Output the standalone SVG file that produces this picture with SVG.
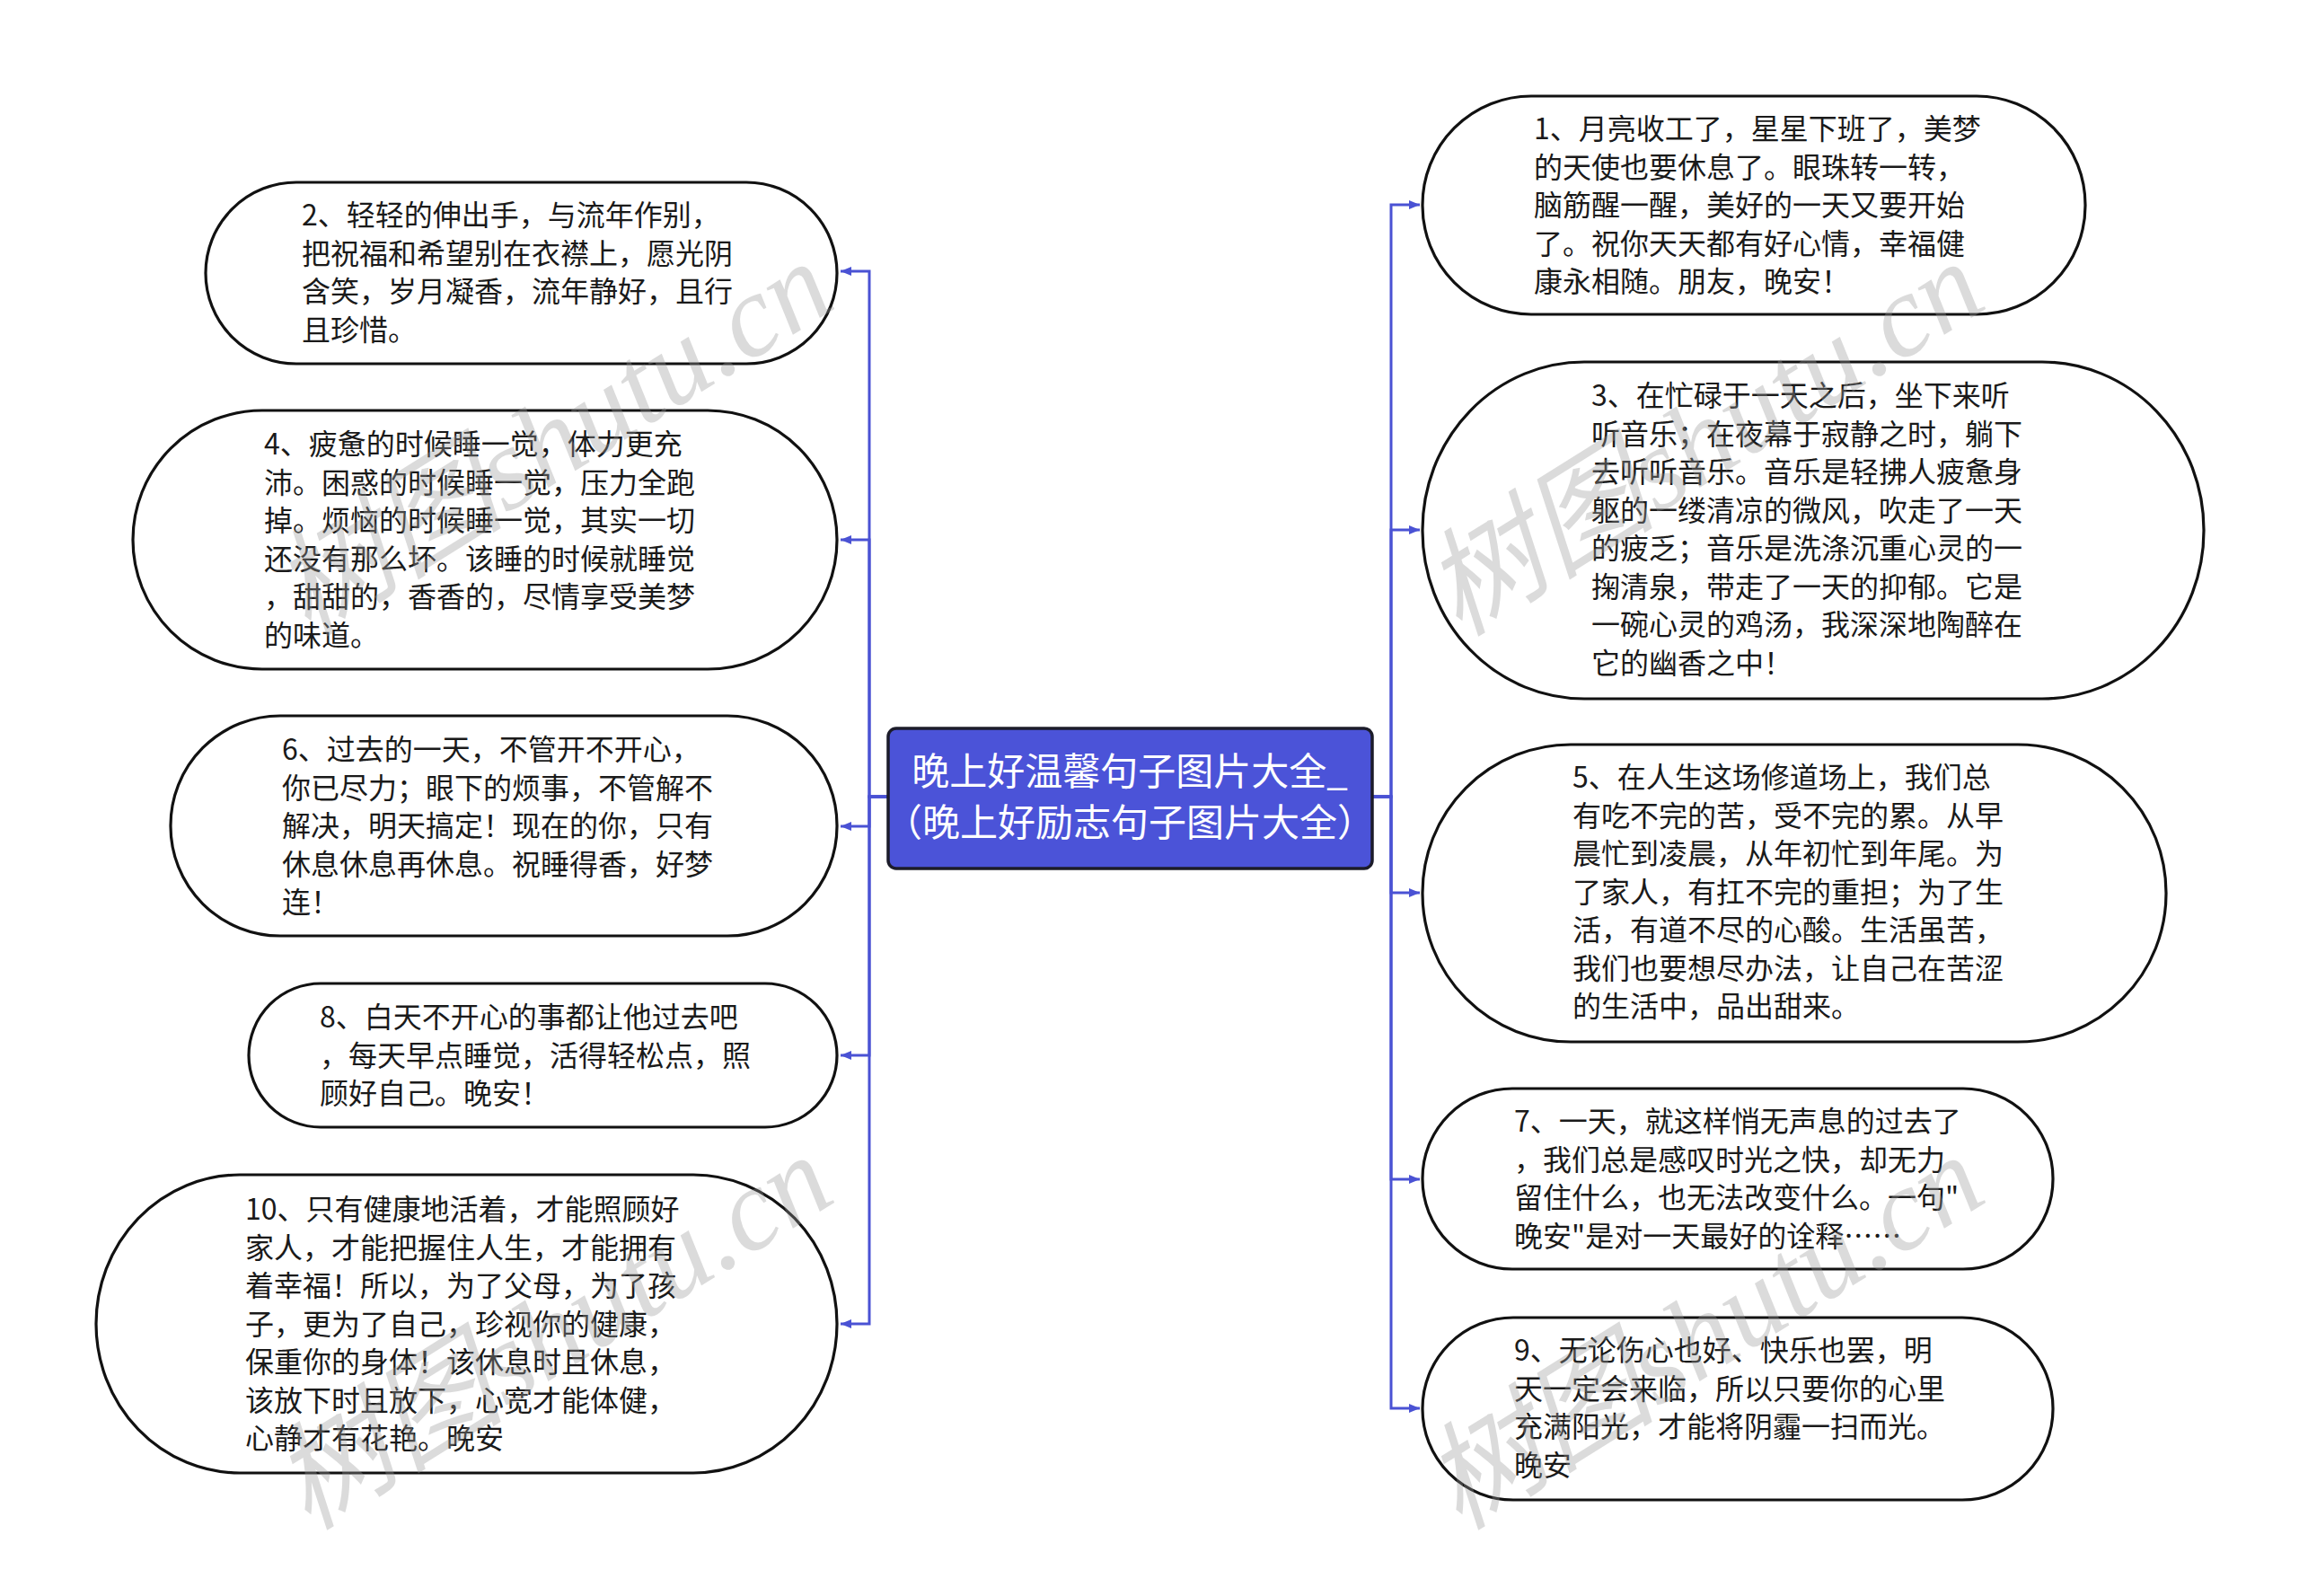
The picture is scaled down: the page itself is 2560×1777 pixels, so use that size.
<svg xmlns="http://www.w3.org/2000/svg" width="2560" height="1777" viewBox="0 0 2560 1777">
<defs>
<style>
.node{fill:#ffffff;stroke:#111111;stroke-width:3.2}
.t{font-family:"Noto Sans CJK SC","Noto Sans",sans-serif;font-size:32px;fill:#1a1a1a}
.ct{font-family:"Noto Sans CJK SC","Noto Sans",sans-serif;font-size:42px;fill:#ffffff;text-anchor:middle}
.edge{fill:none;stroke:#4a52d4;stroke-width:3}
.wm{font-family:"Liberation Serif","Noto Sans CJK SC",serif;font-size:130px;font-style:italic;fill:#9a9a9a;opacity:0.35}
</style>
<marker id="arr" viewBox="0 0 12 10" refX="12" refY="5" markerWidth="12" markerHeight="10" markerUnits="userSpaceOnUse" orient="auto">
<path d="M0,0 L12,5 L0,10 Z" fill="#4a52d4"/>
</marker>
</defs>
<rect width="2560" height="1777" fill="#ffffff"/>
<g id="connectors">
<path class="edge" d="M989,887 H968 V302 H936" marker-end="url(#arr)"/>
<path class="edge" d="M989,887 H968 V601 H936" marker-end="url(#arr)"/>
<path class="edge" d="M989,887 H968 V920 H936" marker-end="url(#arr)"/>
<path class="edge" d="M989,887 H968 V1175 H936" marker-end="url(#arr)"/>
<path class="edge" d="M989,887 H968 V1474 H936" marker-end="url(#arr)"/>
<path class="edge" d="M1528,887 H1549 V228 H1581" marker-end="url(#arr)"/>
<path class="edge" d="M1528,887 H1549 V590 H1581" marker-end="url(#arr)"/>
<path class="edge" d="M1528,887 H1549 V994 H1581" marker-end="url(#arr)"/>
<path class="edge" d="M1528,887 H1549 V1313 H1581" marker-end="url(#arr)"/>
<path class="edge" d="M1528,887 H1549 V1568 H1581" marker-end="url(#arr)"/>
</g>
<g id="center">
<rect x="989" y="811" width="539" height="156" rx="9" fill="#4b53d8" stroke="#1c1c2a" stroke-width="3.5"/>
<text class="ct" x="1258" y="874">晚上好温馨句子图片大全_<tspan x="1258" y="931">（晚上好励志句子图片大全）</tspan></text>
</g>
<g id="n1">
<rect class="node" x="1584" y="107" width="738" height="243" rx="121" ry="121"/>
<text class="t" x="1708" y="155"><tspan x="1708">1、月亮收工了，星星下班了，美梦</tspan><tspan x="1708" dy="42.5">的天使也要休息了。眼珠转一转，</tspan><tspan x="1708" dy="42.5">脑筋醒一醒，美好的一天又要开始</tspan><tspan x="1708" dy="42.5">了。祝你天天都有好心情，幸福健</tspan><tspan x="1708" dy="42.5">康永相随。朋友，晚安！</tspan></text>
</g>
<g id="n3">
<rect class="node" x="1584" y="403" width="870" height="375" rx="180" ry="187"/>
<text class="t" x="1772" y="452"><tspan x="1772">3、在忙碌于一天之后，坐下来听</tspan><tspan x="1772" dy="42.5">听音乐；在夜幕于寂静之时，躺下</tspan><tspan x="1772" dy="42.5">去听听音乐。音乐是轻拂人疲惫身</tspan><tspan x="1772" dy="42.5">躯的一缕清凉的微风，吹走了一天</tspan><tspan x="1772" dy="42.5">的疲乏；音乐是洗涤沉重心灵的一</tspan><tspan x="1772" dy="42.5">掬清泉，带走了一天的抑郁。它是</tspan><tspan x="1772" dy="42.5">一碗心灵的鸡汤，我深深地陶醉在</tspan><tspan x="1772" dy="42.5">它的幽香之中！</tspan></text>
</g>
<g id="n5">
<rect class="node" x="1584" y="829" width="828" height="331" rx="165" ry="165"/>
<text class="t" x="1751" y="877"><tspan x="1751">5、在人生这场修道场上，我们总</tspan><tspan x="1751" dy="42.5">有吃不完的苦，受不完的累。从早</tspan><tspan x="1751" dy="42.5">晨忙到凌晨，从年初忙到年尾。为</tspan><tspan x="1751" dy="42.5">了家人，有扛不完的重担；为了生</tspan><tspan x="1751" dy="42.5">活，有道不尽的心酸。生活虽苦，</tspan><tspan x="1751" dy="42.5">我们也要想尽办法，让自己在苦涩</tspan><tspan x="1751" dy="42.5">的生活中，品出甜来。</tspan></text>
</g>
<g id="n7">
<rect class="node" x="1584" y="1212" width="702" height="201" rx="100" ry="100"/>
<text class="t" x="1686" y="1260"><tspan x="1686">7、一天，就这样悄无声息的过去了</tspan><tspan x="1686" dy="42.5">，我们总是感叹时光之快，却无力</tspan><tspan x="1686" dy="42.5">留住什么，也无法改变什么。一句"</tspan><tspan x="1686" dy="42.5">晚安"是对一天最好的诠释……</tspan></text>
</g>
<g id="n9">
<rect class="node" x="1584" y="1467" width="702" height="203" rx="101" ry="101"/>
<text class="t" x="1686" y="1515"><tspan x="1686">9、无论伤心也好、快乐也罢，明</tspan><tspan x="1686" dy="42.5">天一定会来临，所以只要你的心里</tspan><tspan x="1686" dy="42.5">充满阳光，才能将阴霾一扫而光。</tspan><tspan x="1686" dy="42.5">晚安</tspan></text>
</g>
<g id="n2">
<rect class="node" x="229" y="203" width="703" height="202" rx="101" ry="101"/>
<text class="t" x="336" y="251"><tspan x="336">2、轻轻的伸出手，与流年作别，</tspan><tspan x="336" dy="42.5">把祝福和希望别在衣襟上，愿光阴</tspan><tspan x="336" dy="42.5">含笑，岁月凝香，流年静好，且行</tspan><tspan x="336" dy="42.5">且珍惜。</tspan></text>
</g>
<g id="n4">
<rect class="node" x="148" y="457" width="784" height="288" rx="144" ry="144"/>
<text class="t" x="294" y="506"><tspan x="294">4、疲惫的时候睡一觉，体力更充</tspan><tspan x="294" dy="42.5">沛。困惑的时候睡一觉，压力全跑</tspan><tspan x="294" dy="42.5">掉。烦恼的时候睡一觉，其实一切</tspan><tspan x="294" dy="42.5">还没有那么坏。该睡的时候就睡觉</tspan><tspan x="294" dy="42.5">，甜甜的，香香的，尽情享受美梦</tspan><tspan x="294" dy="42.5">的味道。</tspan></text>
</g>
<g id="n6">
<rect class="node" x="190" y="797" width="742" height="245" rx="122" ry="122"/>
<text class="t" x="314" y="846"><tspan x="314">6、过去的一天，不管开不开心，</tspan><tspan x="314" dy="42.5">你已尽力；眼下的烦事，不管解不</tspan><tspan x="314" dy="42.5">解决，明天搞定！现在的你，只有</tspan><tspan x="314" dy="42.5">休息休息再休息。祝睡得香，好梦</tspan><tspan x="314" dy="42.5">连！</tspan></text>
</g>
<g id="n8">
<rect class="node" x="277" y="1095" width="655" height="160" rx="80" ry="80"/>
<text class="t" x="356" y="1144"><tspan x="356">8、白天不开心的事都让他过去吧</tspan><tspan x="356" dy="42.5">，每天早点睡觉，活得轻松点，照</tspan><tspan x="356" dy="42.5">顾好自己。晚安！</tspan></text>
</g>
<g id="n10">
<rect class="node" x="107" y="1308" width="825" height="332" rx="160" ry="166"/>
<text class="t" x="273" y="1358"><tspan x="273">10、只有健康地活着，才能照顾好</tspan><tspan x="273" dy="42.5">家人，才能把握住人生，才能拥有</tspan><tspan x="273" dy="42.5">着幸福！所以，为了父母，为了孩</tspan><tspan x="273" dy="42.5">子，更为了自己，珍视你的健康，</tspan><tspan x="273" dy="42.5">保重你的身体！该休息时且休息，</tspan><tspan x="273" dy="42.5">该放下时且放下，心宽才能体健，</tspan><tspan x="273" dy="42.5">心静才有花艳。晚安</tspan></text>
</g>
<g id="watermarks">
<text class="wm" transform="translate(343,710) rotate(-32)">树图shutu.cn</text>
<text class="wm" transform="translate(1625,710) rotate(-32)">树图shutu.cn</text>
<text class="wm" transform="translate(343,1705) rotate(-32)">树图shutu.cn</text>
<text class="wm" transform="translate(1625,1705) rotate(-32)">树图shutu.cn</text>
</g>
</svg>
